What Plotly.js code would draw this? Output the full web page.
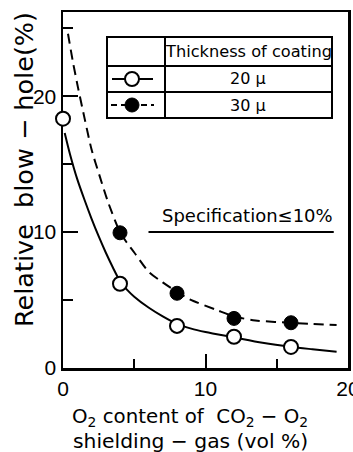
<!DOCTYPE html>
<html>
<head>
<meta charset="utf-8">
<script src="https://cdn.plot.ly/plotly-3.0.1.min.js"></script>
<style>html,body{margin:0;padding:0;background:#fff;}#chart{width:353px;height:452px;}</style>
</head>
<body>
<div id="chart"></div>
<script>
// Measured points (O2 content, vol %) and relative blow-hole (%)
const o2Open = [0, 4, 8, 12, 16];
const blowOpen20 = [18.35, 6.2, 3.1, 2.3, 1.55];
const o2Filled = [4, 8, 12, 16];
const blowFilled30 = [9.95, 5.5, 3.65, 3.33];

// Fitted curves
const curve20X = [0.12, 0.5, 1.0, 1.5, 2.0, 2.5, 3.0, 3.5, 4.0, 4.5, 5.0, 6.0, 7.0, 8.0, 9.0, 10.0, 12.0, 14.0, 16.0, 17.5, 19.2];
const curve20Y = [17.3, 15.7, 13.9, 12.4, 11.0, 9.7, 8.5, 7.4, 6.4, 5.75, 5.25, 4.45, 3.8, 3.25, 2.9, 2.65, 2.25, 1.85, 1.55, 1.38, 1.2];
const curve30X = [0.35, 0.70, 1.06, 1.53, 2.0, 2.58, 3.2, 4.0, 4.5, 5.0, 6.0, 7.0, 8.0, 8.9, 10.8, 12.0, 13.5, 16.0, 19.2];
const curve30Y = [24.6, 22.5, 20.6, 18.3, 16.1, 14.1, 12.1, 10.0, 9.2, 8.5, 7.1, 6.3, 5.6, 5.05, 4.26, 3.8, 3.5, 3.33, 3.16];

// Specification line
const specX = [6, 19];
const specY = [10, 10];
const specLabel = 'Specification≤10%';
const specLabelX = 12.95;
const specLabelY = 11.25;

// Tick labels
const xTickVals = [0, 10, 20];
const yTickVals = [0, 10, 20];

// Legend table texts
const legendHeader = 'Thickness of coating';
const legendRows = ['20 μ', '30 μ'];

const FONT = 'Liberation Sans, Arial, sans-serif';
const TFONT = 'DejaVu Sans, Liberation Sans, sans-serif';

const traces = [
  {x: curve20X, y: curve20Y, type: 'scatter', mode: 'lines',
   line: {color: '#000', width: 2, shape: 'spline', smoothing: 0.8}, hoverinfo: 'skip', showlegend: false},
  {x: curve30X, y: curve30Y, type: 'scatter', mode: 'lines',
   line: {color: '#000', width: 2, shape: 'spline', smoothing: 0.8, dash: '10px,6px'}, hoverinfo: 'skip', showlegend: false},
  {x: specX, y: specY, type: 'scatter', mode: 'lines',
   line: {color: '#000', width: 2}, hoverinfo: 'skip', showlegend: false},
  {x: o2Open, y: blowOpen20, type: 'scatter', mode: 'markers', cliponaxis: false,
   marker: {symbol: 'circle', size: 14, color: '#fff', line: {color: '#000', width: 2}}, showlegend: false},
  {x: o2Filled, y: blowFilled30, type: 'scatter', mode: 'markers', cliponaxis: false,
   marker: {symbol: 'circle', size: 14, color: '#000', line: {color: '#000', width: 1}}, showlegend: false}
];

// Pixel helpers for the legend table (plot area: x 63..348, y 12..368)
const L = 63, R = 348, T = 12, B = 368;
const px = v => (v - L) / (R - L);
const py = v => (B - v) / (B - T);

const shapes = [];
shapes.push({type: 'rect', xref: 'paper', yref: 'paper', x0: px(107), x1: px(332), y0: py(118), y1: py(37), line: {color: '#000', width: 2}});
shapes.push({type: 'line', xref: 'paper', yref: 'paper', x0: px(165), x1: px(165), y0: py(118), y1: py(37), line: {color: '#000', width: 2}});
shapes.push({type: 'line', xref: 'paper', yref: 'paper', x0: px(107), x1: px(332), y0: py(66), y1: py(66), line: {color: '#000', width: 2}});
shapes.push({type: 'line', xref: 'paper', yref: 'paper', x0: px(107), x1: px(332), y0: py(92), y1: py(92), line: {color: '#000', width: 2}});
shapes.push({type: 'line', xref: 'paper', yref: 'paper', x0: px(112), x1: px(153), y0: py(79), y1: py(79), line: {color: '#000', width: 2}});
shapes.push({type: 'circle', xref: 'paper', yref: 'paper', xsizemode: 'pixel', ysizemode: 'pixel',
  xanchor: px(132), yanchor: py(79), x0: -7, x1: 7, y0: -7, y1: 7, fillcolor: '#fff', line: {color: '#000', width: 2}});
shapes.push({type: 'line', xref: 'paper', yref: 'paper', x0: px(111), x1: px(154), y0: py(105), y1: py(105), line: {color: '#000', width: 2, dash: '6px,4px'}});
shapes.push({type: 'circle', xref: 'paper', yref: 'paper', xsizemode: 'pixel', ysizemode: 'pixel',
  xanchor: px(132), yanchor: py(105), x0: -7, x1: 7, y0: -7, y1: 7, fillcolor: '#000', line: {color: '#000', width: 1}});

const annotations = [
  {xref: 'paper', yref: 'paper', x: px(248.5), y: py(51), text: legendHeader, showarrow: false,
   font: {family: TFONT, size: 16.2, color: '#000'}, xanchor: 'center', yanchor: 'middle'},
  {xref: 'paper', yref: 'paper', x: px(248), y: py(79), text: legendRows[0], showarrow: false,
   font: {family: TFONT, size: 16, color: '#000'}, xanchor: 'center', yanchor: 'middle'},
  {xref: 'paper', yref: 'paper', x: px(248), y: py(105), text: legendRows[1], showarrow: false,
   font: {family: TFONT, size: 16, color: '#000'}, xanchor: 'center', yanchor: 'middle'},
  {xref: 'x', yref: 'y', x: specLabelX, y: specLabelY, text: specLabel, showarrow: false,
   font: {family: TFONT, size: 18, color: '#000'}, xanchor: 'center', yanchor: 'middle'},
  {xref: 'paper', yref: 'paper', x: px(190), y: py(417),
   text: 'O<sub>2</sub> content of  CO<sub>2</sub> − O<sub>2</sub>', showarrow: false,
   font: {family: TFONT, size: 19.8, color: '#000'}, xanchor: 'center', yanchor: 'middle'},
  {xref: 'paper', yref: 'paper', x: px(190), y: py(440.5),
   text: 'shielding − gas (vol %)', showarrow: false,
   font: {family: TFONT, size: 20.3, color: '#000'}, xanchor: 'center', yanchor: 'middle'},
  {xref: 'paper', yref: 'paper', x: px(24), y: py(170), text: 'Relative  blow − hole(%)', showarrow: false,
   textangle: -90, font: {family: TFONT, size: 25.5, color: '#000'}, xanchor: 'center', yanchor: 'middle'}
];

const layout = {
  width: 353, height: 452,
  margin: {l: 63, r: 5, t: 12, b: 84, pad: 0},
  paper_bgcolor: '#fff', plot_bgcolor: '#fff',
  showlegend: false,
  font: {family: FONT, color: '#000'},
  xaxis: {
    range: [0, 20], tickvals: xTickVals, ticktext: xTickVals.map(String),
    ticks: 'inside', ticklen: 14, tickwidth: 2, tickcolor: '#000',
    minor: {dtick: 5, tick0: 0, ticks: 'inside', ticklen: 9, tickwidth: 2, tickcolor: '#000'},
    showline: true, linecolor: '#000', linewidth: 2.5, mirror: true,
    showgrid: false, zeroline: false, layer: 'below traces',
    ticklabeloverflow: 'allow',
    tickfont: {family: FONT, size: 21, color: '#000'}
  },
  yaxis: {
    range: [0, 26.2], tickvals: yTickVals, ticktext: yTickVals.map(String),
    ticks: 'inside', ticklen: 15, tickwidth: 2, tickcolor: '#000',
    minor: {dtick: 5, tick0: 0, ticks: 'inside', ticklen: 10, tickwidth: 2, tickcolor: '#000'},
    showline: true, linecolor: '#000', linewidth: 2.5, mirror: true,
    showgrid: false, zeroline: false, layer: 'below traces',
    tickfont: {family: FONT, size: 21, color: '#000'}
  },
  shapes: shapes,
  annotations: annotations
};

Plotly.newPlot('chart', traces, layout, {staticPlot: true, displayModeBar: false});
</script>
</body>
</html>
